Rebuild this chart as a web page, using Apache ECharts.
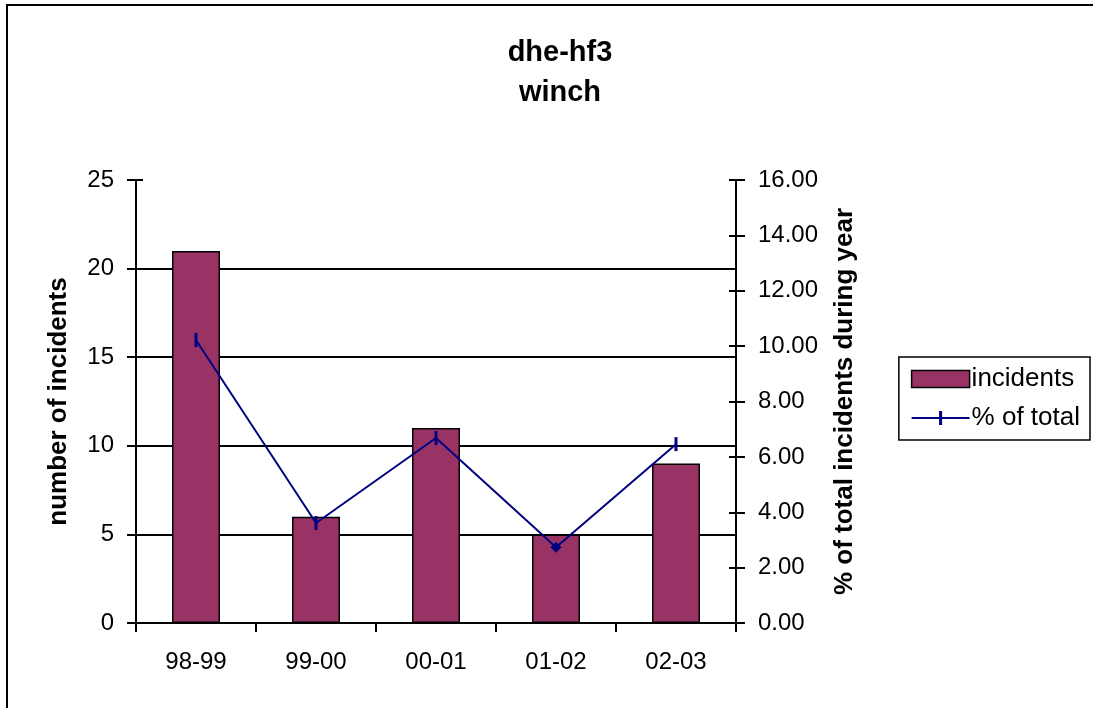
<!DOCTYPE html>
<html><head><meta charset="utf-8">
<script src="https://cdn.jsdelivr.net/npm/echarts@6/dist/echarts.min.js"></script>
<style>html,body{margin:0;padding:0;background:#fff}#c{width:1093px;height:708px}
#frame{position:absolute;left:6px;top:4px;width:1200px;height:800px;border:2px solid #000;box-sizing:border-box;pointer-events:none}</style>
</head><body><div id="c"></div><div id="frame"></div>
<script>
const categories = ['98-99', '99-00', '00-01', '01-02', '02-03'];
const incidents = [21, 6, 11, 5, 9];
const pctOfTotal = [10.22, 3.61, 6.68, 2.74, 6.46];
const gridValues = [5, 10, 15, 20];

const font = 'Liberation Sans, Arial, sans-serif';
const tickStyle = { color: '#000', width: 2 };
const chart = echarts.init(document.getElementById('c'));
chart.setOption({
  animation: false,
  textStyle: { fontFamily: font },
  title: {
    text: 'dhe-hf3\nwinch', left: 555, top: 28, textAlign: 'center',
    textStyle: { fontSize: 29, fontWeight: 'bold', color: '#000', lineHeight: 40, fontFamily: font }
  },
  legend: {
    right: 3, top: 357, orient: 'vertical', borderColor: '#000', borderWidth: 1.5,
    padding: [7, 10, 7, 12], itemGap: 9, itemWidth: 58, itemHeight: 17,
    textStyle: { fontSize: 26, color: '#000', fontFamily: font, lineHeight: 30, padding: [0, 0, 0, -3] },
    data: [
      { name: 'incidents', icon: 'rect', itemStyle: { borderColor: '#000', borderWidth: 1.5 } },
      { name: '% of total', icon: 'path://M0,7.5h58v2h-58z M27.5,1.5h3v14h-3z M0,0h0.01v17h-0.01z', itemStyle: { color: '#000080' } }
    ]
  },
  grid: { left: 136, right: 357, top: 180, bottom: 85 },
  xAxis: {
    type: 'category', data: categories, boundaryGap: true,
    axisLine: { lineStyle: { color: '#000', width: 2 } },
    axisTick: { show: true, length: 9, lineStyle: tickStyle },
    axisLabel: { color: '#000', fontSize: 24, margin: 27, fontFamily: font },
    splitLine: { show: false }
  },
  yAxis: [
    {
      type: 'value', min: 0, max: 25, interval: 5,
      name: 'number of incidents', nameLocation: 'middle', nameGap: 64, nameRotate: 90,
      nameTextStyle: { fontSize: 26, fontWeight: 'bold', color: '#000', fontFamily: font },
      axisLine: { show: true, lineStyle: { color: '#000', width: 2 } },
      axisTick: { show: true, length: 9, lineStyle: tickStyle },
      axisLabel: { color: '#000', fontSize: 24, margin: 22, fontFamily: font },
      splitLine: { show: false }
    },
    {
      type: 'value', min: 0, max: 16, interval: 2, position: 'right',
      name: '% of total incidents during year', nameLocation: 'middle', nameGap: 96, nameRotate: 90,
      nameTextStyle: { fontSize: 26, fontWeight: 'bold', color: '#000', fontFamily: font },
      axisLine: { show: true, lineStyle: { color: '#000', width: 2 } },
      axisTick: { show: true, length: 9, lineStyle: tickStyle },
      axisLabel: { color: '#000', fontSize: 24, margin: 22, fontFamily: font, formatter: v => v.toFixed(2) },
      splitLine: { show: false }
    },
    {
      type: 'value', min: 0, max: 25, interval: 5, position: 'left',
      axisLine: { show: false }, axisLabel: { show: false }, splitLine: { show: false },
      axisTick: { show: true, inside: true, length: 7, lineStyle: tickStyle }
    },
    {
      type: 'value', min: 0, max: 16, interval: 2, position: 'right',
      axisLine: { show: false }, axisLabel: { show: false }, splitLine: { show: false },
      axisTick: { show: true, inside: true, length: 7, lineStyle: tickStyle }
    }
  ],
  series: [
    {
      name: 'incidents', type: 'bar', data: incidents, barWidth: '40%', yAxisIndex: 0,
      itemStyle: { color: '#993366', borderColor: '#000', borderWidth: 1.5 },
      z: 3,
      markLine: {
        silent: true, symbol: 'none', label: { show: false }, z: 1,
        lineStyle: { color: '#000', width: 2, type: 'solid' },
        data: gridValues.map(v => ({ yAxis: v }))
      }
    },
    {
      name: '% of total', type: 'line', data: pctOfTotal.map((v, i) => i === 3 ? { value: v, symbol: 'diamond', symbolSize: 11 } : v),
      yAxisIndex: 1, z: 5,
      symbol: 'rect', symbolSize: [3, 14],
      lineStyle: { color: '#000080', width: 2 },
      itemStyle: { color: '#000080' }
    }
  ]
});
</script>
</body></html>
